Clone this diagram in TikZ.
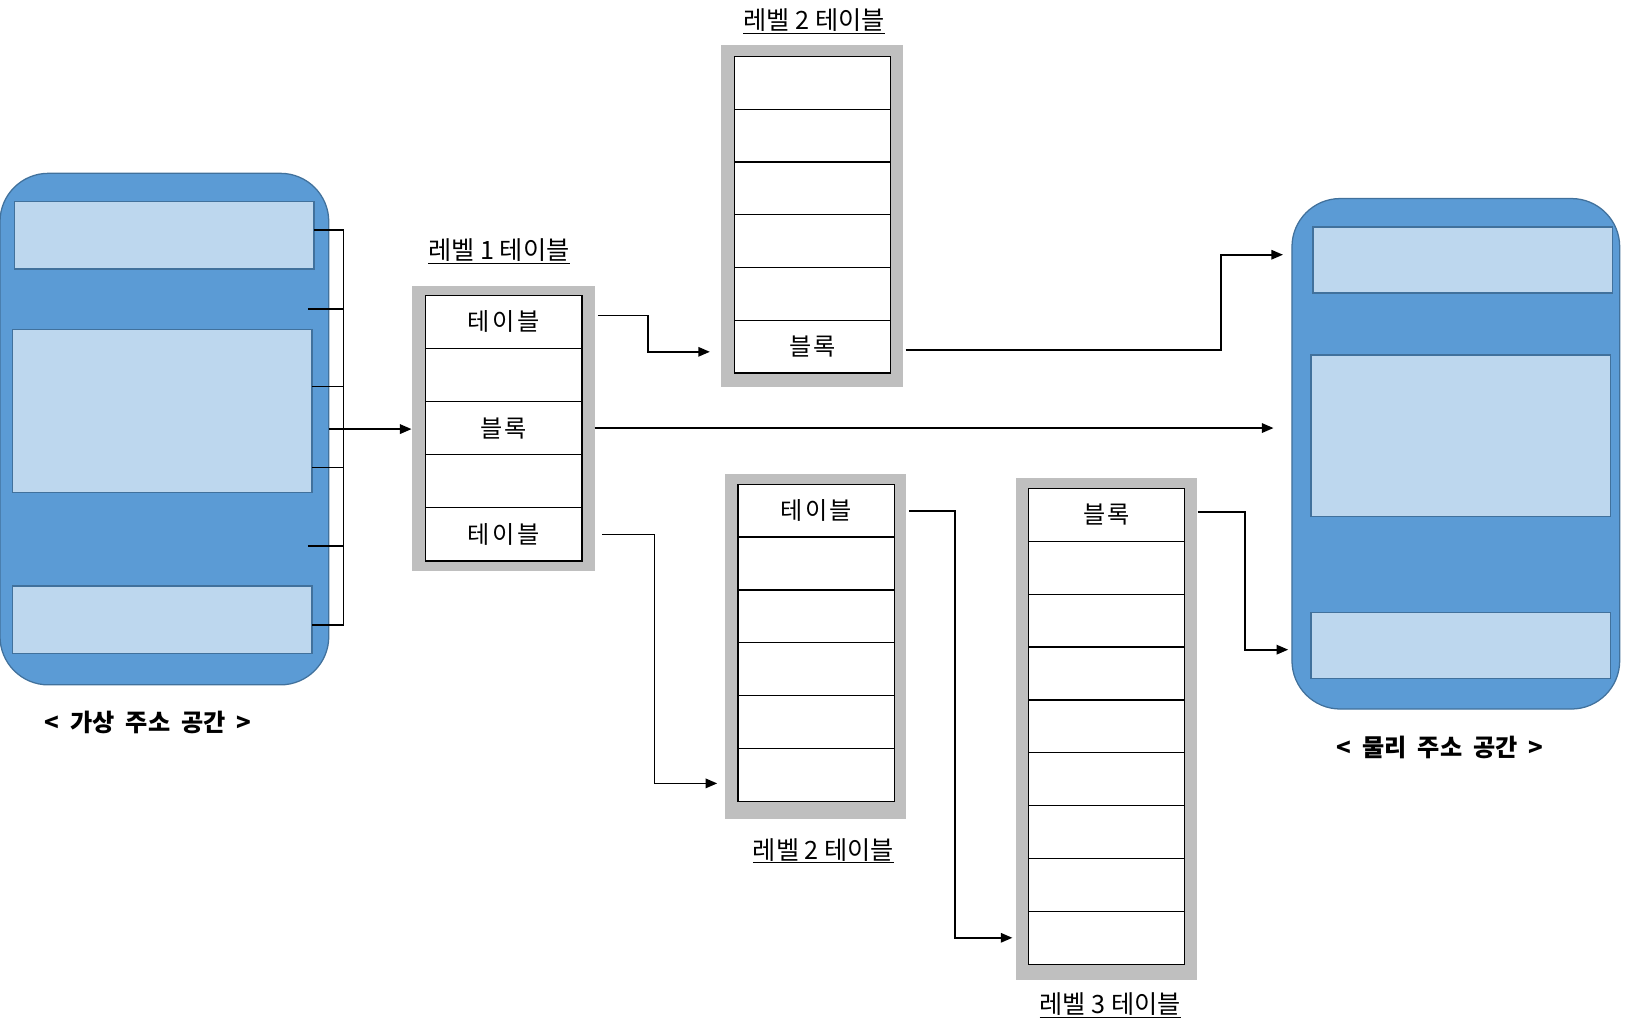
\documentclass[tikz,border=0pt]{standalone}
\usepackage{fontspec}
\setmainfont{Noto Sans CJK KR}
\newfontfamily\cellfont[LetterSpace=10]{Noto Sans CJK KR}
\usetikzlibrary{arrows.meta,calc}
\definecolor{spaceblue}{HTML}{5B9BD5}
\definecolor{spaceedge}{HTML}{41719C}
\definecolor{blocklight}{HTML}{BDD7EE}
\definecolor{framegray}{HTML}{BFBFBF}
\tikzset{
  space/.style={draw=spaceedge, fill=spaceblue, line width=1.2pt, rounded corners=46pt, inner sep=0pt},
  block/.style={draw=spaceedge, fill=blocklight, line width=1.2pt, inner sep=0pt, minimum width=285pt},
  frame/.style={fill=framegray, inner sep=0pt},
  cell/.style={draw, fill=white, line width=1.2pt, inner sep=0pt, minimum width=149pt, font=\cellfont\fontsize{23}{26}\selectfont},
  title/.style={font=\fontsize{24}{28}\selectfont},
  caption/.style={font=\bfseries\fontsize{23}{26}\selectfont},
  link/.style={-{Triangle[length=11pt,width=9pt]}, line width=1.6pt},
  bracket/.style={line width=1.6pt},
}

\begin{document}
\begin{tikzpicture}[x=1pt, y=-1pt]
  \useasboundingbox (0,0) rectangle (1568,986);

  % virtual address space
  \node[space, minimum width=313pt, minimum height=487pt] (vm) at (156.5,408.5) {};
  \node[block, minimum height=64pt] (vb1) at (156.5,224) {};
  \node[block, minimum height=155pt] (vb2) at (154.5,391.5) {};
  \node[block, minimum height=64pt] (vb3) at (154.5,590) {};
  \node[caption] (vcap) at (141,688) {<\ \ 가상\ \ 주소\ \ 공간\ \ >};

  % physical address space
  \node[space, minimum width=312pt, minimum height=486pt] (pm) at (1386,432) {};
  \node[block, minimum height=63pt] (pb1) at (1392.5,247.5) {};
  \node[block, minimum height=154pt] (pb2) at (1390.5,415) {};
  \node[block, minimum height=63pt] (pb3) at (1390.5,614.5) {};
  \node[caption] (pcap) at (1371,712) {<\ \ 물리\ \ 주소\ \ 공간\ \ >};

  % level 1 table
  \node[frame, minimum width=174pt, minimum height=272pt] (f1) at (479,408) {};
  \foreach \i/\t in {1/테이블,2/,3/블록,4/,5/테이블}
    \node[cell, minimum height=50.6pt] (a\i) at (479.5,{281+50.6*(\i-0.5)}) {\t};
  \node[title] (l1) at (475,239) {\underline{레벨 1 테이블}};

  % level 2 table (top)
  \node[frame, minimum width=174pt, minimum height=325pt] (f2) at (773,205.5) {};
  \foreach \i/\t in {1/,2/,3/,4/,5/,6/블록}
    \node[cell, minimum height=50.2pt] (b\i) at (773.5,{54+50.17*(\i-0.5)}) {\t};
  \node[title] (l2) at (775,20) {\underline{레벨 2 테이블}};

  % level 2 table (bottom)
  \node[frame, minimum width=173pt, minimum height=329pt] (f2b) at (776.5,615.5) {};
  \foreach \i/\t in {1/테이블,2/,3/,4/,5/,6/}
    \node[cell, minimum height=50.3pt] (c\i) at (777,{461+50.33*(\i-0.5)}) {\t};
  \node[title] (l2b) at (784,810) {\underline{레벨 2 테이블}};

  % level 3 table
  \node[frame, minimum width=173pt, minimum height=478pt] (f3) at (1053.5,694) {};
  \foreach \i/\t in {1/블록,2/,3/,4/,5/,6/,7/,8/,9/}
    \node[cell, minimum height=50.3pt] (d\i) at (1053.5,{465+50.33*(\i-0.5)}) {\t};
  \node[title] (l3) at (1057,957) {\underline{레벨 3 테이블}};

  % bracket over the virtual space
  \draw[bracket] (299,219) -- (327,219) -- (327,595) -- (297,595);
  \foreach \y/\x in {294/293, 368/297, 445/297, 520/293}
    \draw[bracket] (\x,\y) -- (327,\y);

  % connectors
  \draw[link] (vm.east) -- (f1.west |- vm.east);
  \draw[link, shorten <=3pt, shorten >=10pt] ($(f1.east |- a1)+(0,-6)$) -- ++(51,0) |- ($(f2.west |- b6)+(0,5)$);
  \draw[link, shorten >=17pt] (f1.east |- a3) -- (pm.west |- a3);
  \draw[link, shorten <=7pt, shorten >=7pt] (f1.east |- a5) -- ++(57,0) |- ($(f2b.west |- c6)+(0,8)$);
  \draw[link, shorten <=2pt, shorten >=8pt] ($(f2.east |- b6)+(0,3)$) -- ++(302,0) |- ($(pm.west |- pb1)+(0,-5)$);
  \draw[link, shorten <=2pt, shorten >=3pt] (f2b.east |- c1) -- ++(46,0) |- (f3.west |- d9);
  \draw[link, shorten >=3pt] ($(f3.east |- d1)+(0,-3)$) -- ++(45,0) |- ($(pm.west |- pb3)+(0,4)$);
\end{tikzpicture}
\end{document}
